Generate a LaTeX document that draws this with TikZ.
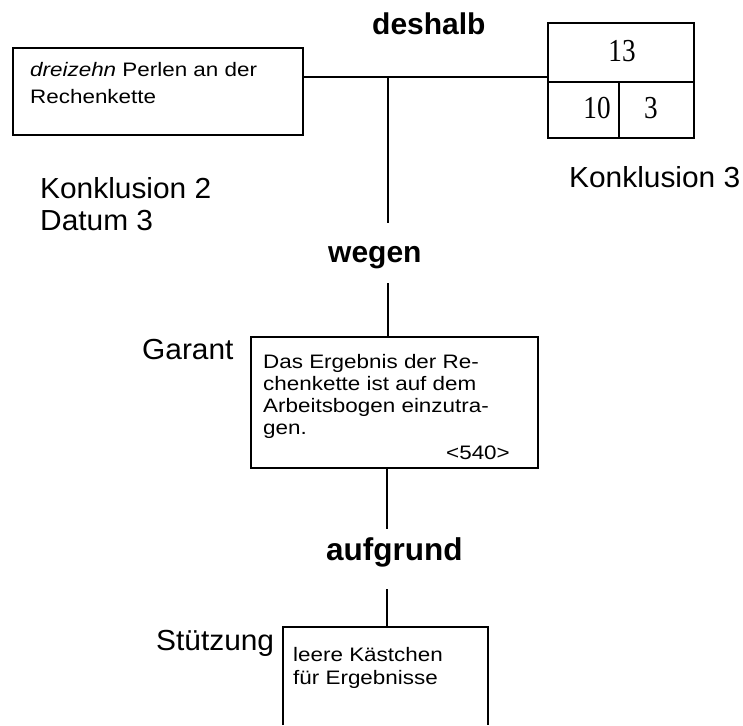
\documentclass[tikz,border=0pt]{standalone}
\usepackage{fontspec}
\setmainfont{Liberation Sans}
\newfontfamily\boxfont[FakeStretch=1.15]{Liberation Sans}
\newfontfamily\labelfont[FakeStretch=1.03]{Liberation Sans}
\newfontfamily\numfont[FakeStretch=0.85]{Liberation Serif}

\tikzset{
  frame/.style={draw, line width=1.5pt, inner sep=0pt},
  link/.style={line width=1.2pt},
  boxtext/.style={anchor=base west, inner sep=0pt, font=\boxfont\fontsize{19.5}{22}\selectfont},
  tag/.style={anchor=base west, inner sep=0pt, font=\labelfont\fontsize{29}{34}\selectfont},
  joiner/.style={anchor=base west, inner sep=0pt, font=\bfseries\fontsize{30}{36}\selectfont},
  digit/.style={anchor=base, inner sep=0pt, font=\numfont\fontsize{32}{36}\selectfont},
}

\begin{document}
\begin{tikzpicture}[x=1pt, y=-1pt]
  \useasboundingbox (0,0) rectangle (743,725);

  % boxes
  \node[frame, minimum width=290pt, minimum height=87pt] (datum) at (158,91.5) {};
  \node[frame, minimum width=146pt, minimum height=115pt] (kbox) at (621,80.5) {};
  \node[frame, minimum width=287pt, minimum height=131pt] (garant) at (394.5,402.5) {};
  \node[inner sep=0pt, minimum width=205pt, minimum height=98pt] (stuetz) at (385.5,676) {};
  \draw[line width=1.5pt] (stuetz.south west) |- (stuetz.north east) -- (stuetz.south east);

  % cells of the number box
  \coordinate (kmid) at (619,82);
  \draw[line width=1.9pt] (kbox.west |- kmid) -- (kbox.east |- kmid);
  \draw[line width=1.9pt] (kmid) -- (kmid |- kbox.south);
  \node[digit] (n13) at (622,62) {13};
  \node[digit] (n10) at (597,118) {10};
  \node[digit] (n3) at (651,118) {3};

  % text in the boxes
  \node[boxtext] (d1) at (30,76) {\itshape dreizehn\upshape{} Perlen an der};
  \node[boxtext] (d2) at (30,103) {Rechenkette};

  \node[boxtext] (g1) at (263,368) {Das Ergebnis der Re-};
  \node[boxtext] (g2) at (263,390) {chenkette ist auf dem};
  \node[boxtext] (g3) at (263,412) {Arbeitsbogen einzutra-};
  \node[boxtext] (g4) at (263,434) {gen.};
  \node[boxtext, anchor=base east] (g5) at (510,459) {<540>};

  \node[boxtext] (s1) at (293,661) {leere Kästchen};
  \node[boxtext] (s2) at (293,684) {für Ergebnisse};

  % role labels
  \node[tag] (lk2) at (40,198) {Konklusion 2};
  \node[tag] (ld3) at (40,230) {Datum 3};
  \node[tag] (lk3) at (569,187) {Konklusion 3};
  \node[tag] (lga) at (142,359) {Garant};
  \node[tag] (lst) at (156,650) {Stützung};

  % joining words
  \node[joiner] (deshalb) at (372,35) {deshalb};
  \node[joiner] (wegen) at (328,262) {wegen};
  \node[joiner, font=\bfseries\fontsize{31.5}{36}\selectfont] (aufgrund) at (326,560) {aufgrund};

  % connectors
  \coordinate (hub) at (388,77);
  \coordinate (w1) at (388,223);
  \coordinate (w2) at (388,283);
  \coordinate (a1) at (387,529);
  \coordinate (a2) at (387,589);
  \draw[link] (datum.east |- hub) -- (kbox.west |- hub);
  \draw[link] (hub) -- (w1);
  \draw[link] (w2) -- (w2 |- garant.north);
  \draw[link] (a1 |- garant.south) -- (a1);
  \draw[link] (a2) -- (a2 |- stuetz.north);
\end{tikzpicture}
\end{document}
